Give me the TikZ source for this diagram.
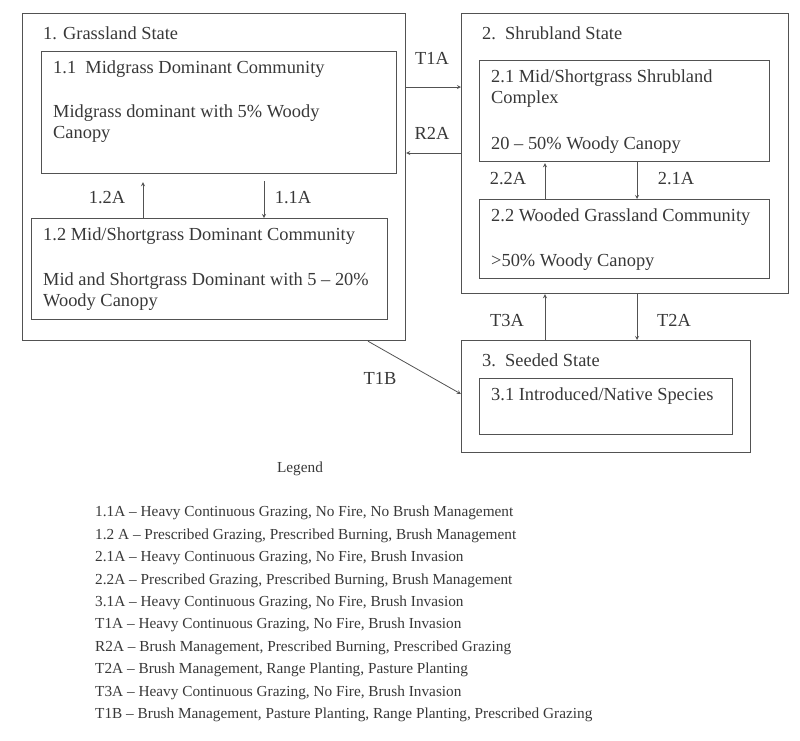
\documentclass[tikz,border=0pt]{standalone}
\usepackage{fontspec}
\setmainfont{Liberation Serif}
\usetikzlibrary{arrows}
\newcommand{\boxFont}{\fontsize{18.4}{21}\selectfont}
\newcommand{\legendFont}{\fontsize{15.3}{22.4}\selectfont}
\definecolor{lineGray}{gray}{0.32}
\definecolor{textGray}{gray}{0.22}

\begin{document}
\begin{tikzpicture}[x=1pt, y=-1pt, >=stealth,
  box/.style={draw=lineGray, line width=1.2pt, inner sep=0pt, anchor=north west},
  txt/.style={text=textGray, font=\boxFont, inner sep=0pt, anchor=west, align=left},
  lbl/.style={text=textGray, font=\boxFont, inner sep=0pt},
  conn/.style={->, draw=lineGray, line width=0.8pt}]
\useasboundingbox (0,0) rectangle (800,740);

% states and communities
\node[box, minimum width=383pt, minimum height=327pt] (grass) at (22,13) {};
\node[box, minimum width=355pt, minimum height=122pt] (mid) at (41,51) {};
\node[box, minimum width=356pt, minimum height=101pt] (midshort) at (31,218) {};
\node[box, minimum width=327pt, minimum height=280pt] (shrub) at (461,13) {};
\node[box, minimum width=290pt, minimum height=101pt] (shrubcx) at (479,60) {};
\node[box, minimum width=290pt, minimum height=79pt] (wooded) at (479,199) {};
\node[box, minimum width=289pt, minimum height=112pt] (seeded) at (461,340) {};
\node[box, minimum width=253pt, minimum height=56pt] (native) at (479,378) {};

\node[txt] (grassT) at (43,33) {1. Grassland State};
\node[txt] (midT) at (53,69) {1.1\ \ Midgrass Dominant Community};
\node[txt] (midD) at (53,123.5) {Midgrass dominant with 5\% Woody\\Canopy};
\node[txt] (midshortT) at (43,236) {1.2 Mid/Shortgrass Dominant Community};
\node[txt] (midshortD) at (43,292) {Mid and Shortgrass Dominant with 5 -- 20\%\\Woody Canopy};
\node[txt] (shrubT) at (482,33) {2.\ \ Shrubland State};
\node[txt] (shrubcxT) at (491,89) {2.1 Mid/Shortgrass Shrubland\\Complex};
\node[txt] (shrubcxD) at (491,145) {20 -- 50\% Woody Canopy};
\node[txt] (woodedT) at (491,217) {2.2 Wooded Grassland Community};
\node[txt] (woodedD) at (491,262) {>50\% Woody Canopy};
\node[txt] (seededT) at (482,360) {3.\ \ Seeded State};
\node[txt] (nativeT) at (491,396) {3.1 Introduced/Native Species};

% transitions
\draw[conn, shorten >=8pt] ([xshift=112pt]midshort.north west) coordinate (a12) -- (a12 |- mid.south);
\draw[conn, shorten <=7pt] ([xshift=223pt]mid.south west) coordinate (a11) -- (a11 |- midshort.north);
\draw[conn] ([yshift=-74pt]grass.north east) coordinate (t1a) -- (t1a -| shrub.west);
\draw[conn] ([yshift=-140pt]shrub.north west) coordinate (r2a) -- (r2a -| grass.east);
\draw[conn, shorten >=1pt] ([xshift=66pt]wooded.north west) coordinate (a22) -- (a22 |- shrubcx.south);
\draw[conn] ([xshift=158pt]shrubcx.south west) coordinate (a21) -- (a21 |- wooded.north);
\draw[conn] ([xshift=84pt]seeded.north west) coordinate (t3a) -- (t3a |- shrub.south);
\draw[conn] ([xshift=176pt]shrub.south west) coordinate (t2a) -- (t2a |- seeded.north);
\draw[conn] ([xshift=346pt]grass.south west) -- ([yshift=-54pt]seeded.north west);

\node[lbl] (l12) at (107,198) {1.2A};
\node[lbl] (l11) at (293,198) {1.1A};
\node[lbl] (lt1a) at (432,58) {T1A};
\node[lbl] (lr2a) at (432,133) {R2A};
\node[lbl] (l22) at (508,179) {2.2A};
\node[lbl] (l21) at (676,179) {2.1A};
\node[lbl] (lt3a) at (507,320) {T3A};
\node[lbl] (lt2a) at (674,320) {T2A};
\node[lbl] (lt1b) at (380,378) {T1B};

% legend
\node[lbl, font=\legendFont] (legend) at (300,469) {Legend};
\node[txt, font=\legendFont] (legendT) at (95,614) {%
1.1A -- Heavy Continuous Grazing, No Fire, No Brush Management\\
1.2 A -- Prescribed Grazing, Prescribed Burning, Brush Management\\
2.1A -- Heavy Continuous Grazing, No Fire, Brush Invasion\\
2.2A -- Prescribed Grazing, Prescribed Burning, Brush Management\\
3.1A -- Heavy Continuous Grazing, No Fire, Brush Invasion\\
T1A -- Heavy Continuous Grazing, No Fire, Brush Invasion\\
R2A -- Brush Management, Prescribed Burning, Prescribed Grazing\\
T2A -- Brush Management, Range Planting, Pasture Planting\\
T3A -- Heavy Continuous Grazing, No Fire, Brush Invasion\\
T1B -- Brush Management, Pasture Planting, Range Planting, Prescribed Grazing};
\end{tikzpicture}
\end{document}
